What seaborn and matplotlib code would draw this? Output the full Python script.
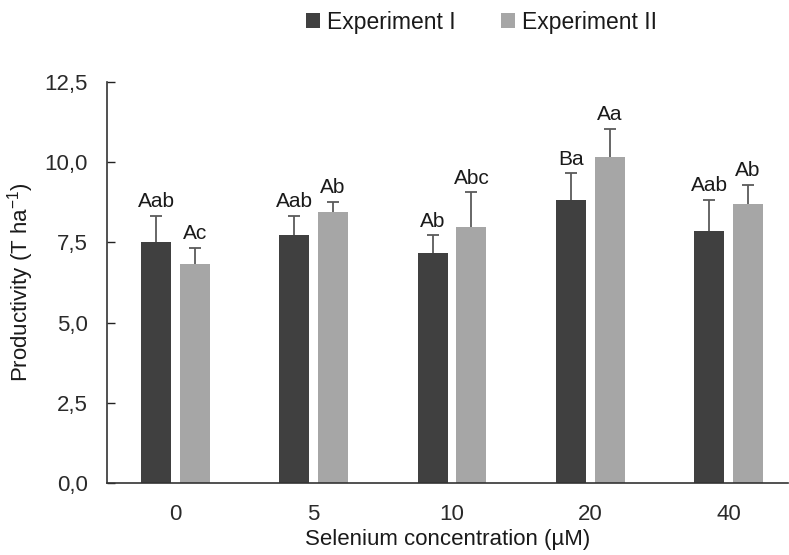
import matplotlib
matplotlib.use("Agg")
import matplotlib.pyplot as plt
from matplotlib.container import BarContainer
import seaborn as sns
import pandas as pd
import numpy as np

concentrations = ["0", "5", "10", "20", "40"]
exp1_mean = [7.52, 7.73, 7.17, 8.83, 7.87]
exp2_mean = [6.84, 8.46, 7.98, 10.17, 8.71]
exp1_err = [0.80, 0.59, 0.55, 0.82, 0.95]
exp2_err = [0.48, 0.29, 1.08, 0.87, 0.58]
exp1_letters = ["Aab", "Aab", "Ab", "Ba", "Aab"]
exp2_letters = ["Ac", "Ab", "Abc", "Aa", "Ab"]
series = ["Experiment I", "Experiment II"]
colors = ["#404040", "#a6a6a6"]
yticks = [0, 2.5, 5.0, 7.5, 10.0, 12.5]
ytick_labels = ["0,0", "2,5", "5,0", "7,5", "10,0", "12,5"]

df = pd.DataFrame({
    "conc": concentrations * 2,
    "value": exp1_mean + exp2_mean,
    "series": [series[0]] * 5 + [series[1]] * 5,
})

sns.set_theme(style="white")
plt.rcParams["font.family"] = ["Liberation Sans", "DejaVu Sans"]
plt.rcParams["mathtext.fontset"] = "custom"
plt.rcParams["mathtext.rm"] = "Liberation Sans"

FS_ANN = 15
FS_TICK = 16
FS_LAB = 16
FS_LEG = 16.5
fig = plt.figure(figsize=(7.89, 5.55), dpi=100)
ax = fig.add_axes([107 / 789, 1 - 483 / 555, (788 - 107) / 789, (483 - 82) / 555])

sns.barplot(data=df, x="conc", y="value", hue="series", order=concentrations,
            hue_order=series, palette=colors, width=0.56, gap=0.225,
            errorbar=None, saturation=1, ax=ax, legend=True, linewidth=0)

errs = [exp1_err, exp2_err]
letters = [exp1_letters, exp2_letters]
bar_conts = [c for c in ax.containers if isinstance(c, BarContainer)]
for ci, cont in enumerate(bar_conts):
    bars = [b for b in cont if b is not None]
    for bi, bar in enumerate(bars):
        xc = bar.get_x() + bar.get_width() / 2
        h = bar.get_height()
        e = errs[ci][bi]
        eb = ax.errorbar(xc, h, yerr=[[0], [e]], fmt="none", ecolor="#5a5a5a",
                         elinewidth=1.3, capsize=4, capthick=1.3, zorder=3)
        for cap in eb[1]:
            yd = np.asarray(cap.get_ydata(), dtype=float)
            if np.allclose(yd, h):
                cap.set_visible(False)
        ax.text(xc, h + e + 0.15, letters[ci][bi], ha="center", va="bottom",
                fontsize=FS_ANN, color="#1a1a1a")

ax.set_xlim(-0.495, 4.43)
ax.set_ylim(0, 12.5)
ax.set_yticks(yticks)
ax.set_yticklabels(ytick_labels)
ax.tick_params(axis="y", which="major", direction="in", length=6, width=1,
               color="#222222", pad=14, labelsize=FS_TICK, labelcolor="#2a2a2a",
               left=True, right=False)
ax.tick_params(axis="x", length=0, pad=15, labelsize=FS_TICK, labelcolor="#2a2a2a")
for s in ["top", "right"]:
    ax.spines[s].set_visible(False)
for s in ["left", "bottom"]:
    ax.spines[s].set_color("#333333")
    ax.spines[s].set_linewidth(1.2)

ax.set_xlabel("Selenium concentration (µM)", fontsize=FS_LAB, color="#1a1a1a", labelpad=3)
ax.set_ylabel(r"Productivity (T ha$^{\mathregular{-1}}$)", fontsize=FS_LAB,
              color="#1a1a1a", labelpad=6)

handles, labels = ax.get_legend_handles_labels()
if ax.legend_ is not None:
    ax.legend_.remove()
fig.legend(handles, labels, loc="center", bbox_to_anchor=(0.61, 0.96), ncol=2,
           frameon=False, fontsize=FS_LEG, handlelength=0.6, handleheight=0.6,
           handletextpad=0.3, columnspacing=2.0, labelcolor="#1a1a1a")

fig.savefig("out.png", dpi=100)
